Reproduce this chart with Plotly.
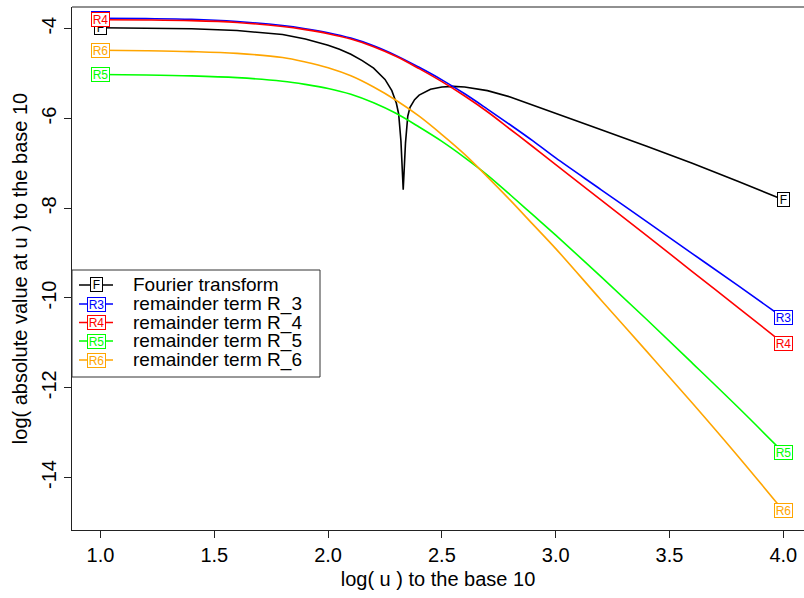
import plotly.graph_objects as go

# ---------------- data ----------------
x_r = [1.0, 1.2, 1.4, 1.6, 1.8, 1.9, 2.0, 2.1, 2.2, 2.3, 2.4, 2.5, 2.6, 2.7, 2.8, 2.9,
       3.0, 3.2, 3.4, 3.6, 3.8, 4.0]
r3 = [-3.77, -3.775, -3.79, -3.84, -3.93, -4.00, -4.09, -4.21, -4.38, -4.60, -4.86, -5.14,
      -5.45, -5.79, -6.14, -6.50, -6.88, -7.59, -8.30, -9.01, -9.72, -10.44]
r4 = [-3.80, -3.805, -3.82, -3.86, -3.95, -4.02, -4.11, -4.23, -4.40, -4.62, -4.89, -5.18,
      -5.50, -5.85, -6.24, -6.63, -7.03, -7.82, -8.61, -9.41, -10.21, -11.01]
r5 = [-5.02, -5.03, -5.05, -5.09, -5.17, -5.24, -5.33, -5.46, -5.65, -5.89, -6.19, -6.51,
      -6.87, -7.26, -7.70, -8.15, -8.60, -9.53, -10.48, -11.45, -12.43, -13.44]
r6 = [-4.48, -4.49, -4.51, -4.55, -4.64, -4.74, -4.87, -5.05, -5.30, -5.60, -5.95, -6.36,
      -6.80, -7.30, -7.82, -8.36, -8.90, -10.05, -11.19, -12.34, -13.52, -14.74]

x_f = [1.0, 1.2, 1.4, 1.6, 1.7, 1.8, 1.9, 2.0, 2.05, 2.1, 2.15, 2.2, 2.25, 2.28, 2.30, 2.31,
       2.32, 2.33, 2.34, 2.35, 2.36, 2.38, 2.40, 2.45, 2.50, 2.55, 2.60, 2.70, 2.80, 2.90,
       3.00, 3.20, 3.40, 3.60, 3.80, 4.00]
fourier = [-3.98, -3.985, -4.00, -4.04, -4.08, -4.13, -4.23, -4.37, -4.46, -4.57, -4.71,
           -4.88, -5.13, -5.38, -5.66, -5.90, -6.50, -7.59, -6.55, -5.95, -5.75, -5.58,
           -5.48, -5.35, -5.30, -5.285, -5.30, -5.38, -5.52, -5.70, -5.89, -6.25, -6.62,
           -7.00, -7.40, -7.81]

series_names = ["Fourier transform", "remainder term R_3", "remainder term R_4",
                "remainder term R_5", "remainder term R_6"]
series_tags = ["F", "R3", "R4", "R5", "R6"]
series_colors = ["#000000", "#0000FF", "#FF0000", "#00FF00", "#FFA500"]

x_ticks = [1.0, 1.5, 2.0, 2.5, 3.0, 3.5, 4.0]
x_ticktext = ["1.0", "1.5", "2.0", "2.5", "3.0", "3.5", "4.0"]
y_ticks = [-14, -12, -10, -8, -6, -4]
y_ticktext = ["-14", "-12", "-10", "-8", "-6", "-4"]

# ---------------- layout geometry ----------------
W, H = 804, 598
L, R, T, B = 72, 804, 7, 530
FONT = "Liberation Sans, Arial, sans-serif"
FS = 20


def px2paper(px, py):
    return (px - L) / (R - L), (B - py) / (B - T)


def tag_box(x, y, xref, yref, i):
    tag = series_tags[i]
    return dict(
        x=x, y=y, xref=xref, yref=yref, text=tag, showarrow=False,
        font=dict(family=FONT, size=12, color=series_colors[i]),
        bgcolor="white", bordercolor=series_colors[i], borderwidth=1, borderpad=0,
        width=17 if len(tag) == 2 else 11, height=13, valign="middle", align="center",
        xanchor="center", yanchor="middle")


xs = [x_f, x_r, x_r, x_r, x_r]
ys = [fourier, r3, r4, r5, r6]

fig = go.Figure()
for i in range(5):
    fig.add_trace(go.Scatter(
        x=xs[i], y=ys[i], mode="lines",
        line=dict(color=series_colors[i], width=1.6,
                  shape="linear" if i == 0 else "spline"),
        showlegend=False, hoverinfo="skip"))

annotations = []
# end labels (at first and last data point of each curve)
for i in range(5):
    for j in (0, -1):
        annotations.append(tag_box(xs[i][j], ys[i][j], "x", "y", i))

# manual legend
shapes = []
lx0, ly0 = px2paper(72, 377)
lx1, ly1 = px2paper(320, 270)
shapes.append(dict(type="rect", xref="paper", yref="paper", x0=lx0, y0=ly0, x1=lx1, y1=ly1,
                   line=dict(color="#333333", width=1), fillcolor="white", layer="above"))
row_y = [285, 304, 322.5, 341, 360]
for i in range(5):
    a0, b0 = px2paper(79, row_y[i])
    a1, _ = px2paper(113, row_y[i])
    shapes.append(dict(type="line", xref="paper", yref="paper", x0=a0, x1=a1, y0=b0, y1=b0,
                       line=dict(color=series_colors[i], width=1.6), layer="above"))
    cx, _ = px2paper(96, row_y[i])
    annotations.append(tag_box(cx, b0, "paper", "paper", i))
    tx, _ = px2paper(131, row_y[i])
    annotations.append(dict(
        x=tx, y=b0, xref="paper", yref="paper", text=series_names[i], showarrow=False,
        font=dict(family=FONT, size=19, color="black"), xanchor="left", yanchor="middle"))

# top border of the plot box
shapes.append(dict(type="line", xref="paper", yref="paper", x0=0, x1=1, y0=1, y1=1,
                   line=dict(color="#222222", width=1.2)))

x_lo = 1.0 - 28.5 / 227.6
x_hi = 4.0 + (R - 783.3) / 227.6

fig.update_layout(
    width=W, height=H,
    margin=dict(l=L, r=W - R, t=T, b=H - B),
    paper_bgcolor="white", plot_bgcolor="white",
    font=dict(family=FONT, size=FS, color="black"),
    showlegend=False,
    xaxis=dict(range=[x_lo, x_hi], tickvals=x_ticks, ticktext=x_ticktext,
               showgrid=False, zeroline=False, showline=True, linecolor="#222222",
               linewidth=1.2, ticks="outside", ticklen=7, tickcolor="#222222",
               tickfont=dict(size=FS),
               title=dict(text="log( u ) to the base 10", font=dict(size=FS), standoff=6)),
    yaxis=dict(range=[-15.17, -3.516], tickvals=y_ticks, ticktext=y_ticktext,
               showgrid=False, zeroline=False, showline=True, linecolor="#222222",
               linewidth=1.2, ticks="outside", ticklen=7, tickcolor="#222222",
               tickangle=-90, tickfont=dict(size=FS),
               title=dict(text="log( absolute value at u ) to the base 10",
                          font=dict(size=FS), standoff=4)),
    annotations=annotations, shapes=shapes,
)

fig.write_html("out.html")
